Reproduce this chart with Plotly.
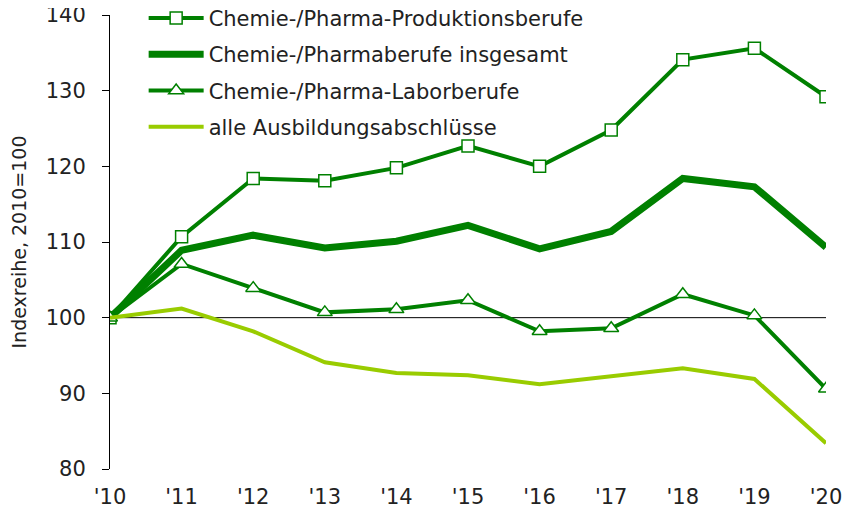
import plotly.graph_objects as go

years = [2010, 2011, 2012, 2013, 2014, 2015, 2016, 2017, 2018, 2019, 2020]
tick_labels = ["'10", "'11", "'12", "'13", "'14", "'15", "'16", "'17", "'18", "'19", "'20"]

produktion = [100, 110.7, 118.4, 118.1, 119.8, 122.7, 120.0, 124.8, 134.1, 135.6, 129.2]
insgesamt = [100, 108.9, 110.9, 109.2, 110.1, 112.2, 109.1, 111.4, 118.4, 117.3, 109.3]
labor = [100, 107.1, 103.9, 100.7, 101.1, 102.3, 98.2, 98.6, 103.1, 100.3, 90.6]
alle = [100, 101.2, 98.2, 94.1, 92.7, 92.4, 91.2, 92.3, 93.3, 91.9, 83.4]

names = [
    "Chemie-/Pharma-Produktionsberufe",
    "Chemie-/Pharmaberufe insgesamt",
    "Chemie-/Pharma-Laborberufe",
    "alle Ausbildungsabschlüsse",
]

dark = "#008000"
light = "#99cc00"

fig = go.Figure()
fig.add_trace(go.Scatter(
    x=years, y=produktion, name=names[0], mode="lines+markers", legendgroup="a",
    line=dict(color=dark, width=4),
    marker=dict(symbol="square", size=12, color="white", line=dict(color=dark, width=1.5)),
))
fig.add_trace(go.Scatter(
    x=years, y=insgesamt, name=names[1], mode="lines", legendgroup="b",
    line=dict(color=dark, width=7),
))
fig.add_trace(go.Scatter(
    x=years, y=labor, name=names[2], mode="lines+markers", legendgroup="c",
    line=dict(color=dark, width=4),
    marker=dict(symbol="triangle-up", size=13, color="white", line=dict(color=dark, width=1.5)),
))
fig.add_trace(go.Scatter(
    x=years, y=alle, name=names[3], mode="lines", legendgroup="d",
    line=dict(color=light, width=4),
))

fig.add_shape(type="line", xref="paper", x0=0, x1=1, yref="y", y0=100, y1=100,
              line=dict(color="black", width=1), layer="below")

fig.update_layout(
    width=850, height=510,
    margin=dict(l=102, r=32, t=7, b=49, autoexpand=False),
    paper_bgcolor="white", plot_bgcolor="white",
    font=dict(family="DejaVu Sans, Verdana, sans-serif", size=21, color="#222"),
    showlegend=True,
    legend=dict(x=0.047, y=1.038,
                xanchor="left", yanchor="top", traceorder="grouped", itemwidth=55,
                tracegroupgap=6, bgcolor="rgba(0,0,0,0)", font=dict(size=21, color="#222")),
    xaxis=dict(range=[2010, 2020], tickvals=years, ticktext=tick_labels,
               showgrid=False, zeroline=False, showline=False, ticks="",
               ticklabelstandoff=13, ticklabeloverflow="allow"),
    yaxis=dict(range=[80, 140], dtick=10, showgrid=False, zeroline=False,
               showline=True, linecolor="black", linewidth=1, ticks="outside",
               ticklen=7, tickcolor="black", ticklabelstandoff=12, ticklabeloverflow="allow",
               title=dict(text="Indexreihe, 2010=100", font=dict(size=19, color="#222"))),
)

fig.write_html("out.html")
